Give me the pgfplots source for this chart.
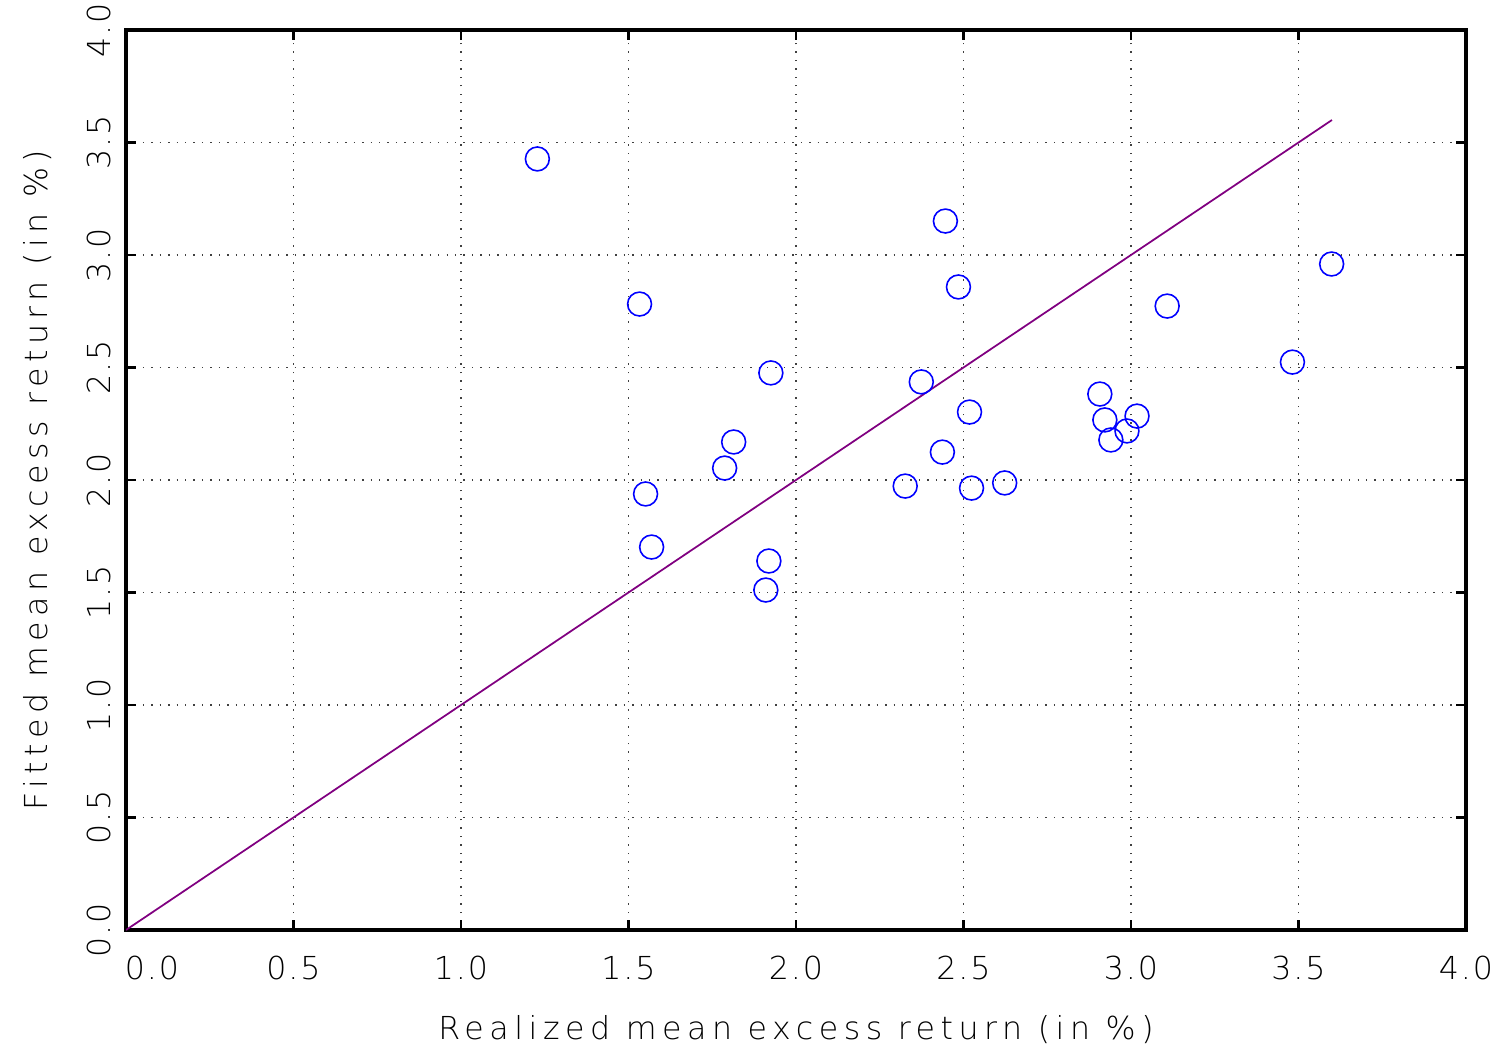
\documentclass[border=0pt]{standalone}
\usepackage{fontspec}
\setmainfont{DejaVu Sans ExtraLight}
\newfontfamily\tickfont{DejaVu Sans ExtraLight}[LetterSpace=6]
\newfontfamily\labelfont{DejaVu Sans ExtraLight}[LetterSpace=17.5]
\usepackage{pgfplots}
\pgfplotsset{compat=1.18}
\begin{document}
\begin{tikzpicture}
\useasboundingbox (-1.26cm,-1.20cm) rectangle (13.74cm,9.30cm);
\begin{axis}[
  at={(0,0)}, anchor=south west,
  scale only axis, width=13.4cm, height=9cm,
  xmin=0, xmax=4, ymin=0, ymax=4,
  xtick={0,0.5,...,4}, ytick={0,0.5,...,4},
  xticklabels={\hspace*{0.52cm}0.0,0.5,1.0,1.5,2.0,2.5,3.0,3.5,4.0},
  yticklabels={0.0,0.5,1.0,1.5,2.0,2.5,3.0,3.5,4.0},
  tick align=inside, tick pos=both, major tick length=0.1cm,
  tick style={black, line width=0.6pt},
  axis line style={line width=1.2pt},
  grid=major, major grid style={dotted, black!75, line width=0.4pt},
  ticklabel style={font=\tickfont\fontsize{9}{11}\selectfont},
  xticklabel style={yshift=-4pt},
  yticklabel style={rotate=90, anchor=south, inner sep=4pt},
  label style={font=\labelfont\fontsize{9}{11}\selectfont},
  xlabel={Realized mean excess return (in \%)},
  ylabel={Fitted mean excess return (in \%)},
  xlabel style={at={(axis description cs:0.5,-0.111)}, anchor=center},
  ylabel style={at={(axis description cs:-0.0657,0.5)}, anchor=center},
]
\addplot[color={rgb,255:red,128;green,0;blue,128}, line width=0.5pt] coordinates {(0,0) (3.6,3.6)};
\addplot[only marks, mark=o, mark size=3.4pt, color=blue, mark options={line width=0.45pt}] coordinates {
(1.228,3.427) (1.533,2.782) (1.551,1.938) (1.569,1.702) (1.787,2.053)
(1.814,2.169) (1.925,2.476) (1.919,1.640) (1.910,1.511) (2.326,1.973)
(2.374,2.436) (2.437,2.124) (2.446,3.151) (2.485,2.858) (2.518,2.302)
(2.524,1.964) (2.623,1.987) (2.907,2.382) (2.922,2.267) (2.940,2.178)
(2.988,2.218) (3.018,2.284) (3.108,2.773) (3.482,2.524) (3.599,2.960)
};
\end{axis}
\end{tikzpicture}
\end{document}
